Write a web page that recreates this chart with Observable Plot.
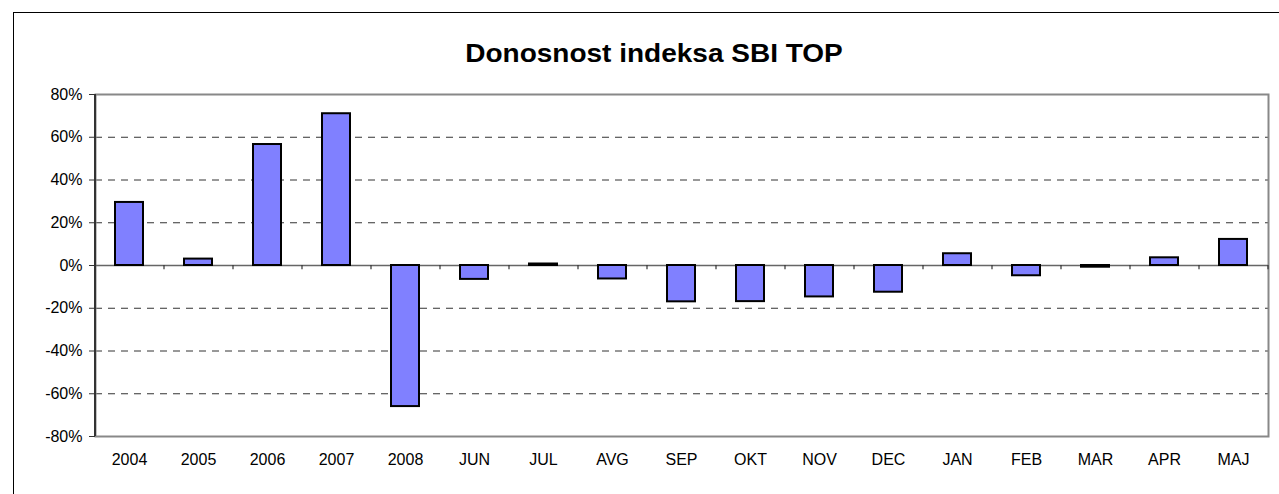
<!DOCTYPE html>
<html>
<head>
<meta charset="utf-8">
<script src="https://cdn.jsdelivr.net/npm/d3@7"></script>
<script src="https://cdn.jsdelivr.net/npm/@observablehq/plot@0.6"></script>
<style>
  html, body { margin: 0; padding: 0; background: #fff; overflow: hidden; }
  #wrap { position: relative; width: 1279px; height: 494px; overflow: hidden; font-family: "Liberation Sans", Arial, sans-serif; }
  #outer { position: absolute; left: 13px; top: 12px; width: 1400px; height: 600px; border: 1px solid #000; box-sizing: border-box; }
  #title { position: absolute; left: 13px; width: 1282px; top: 39px; text-align: center; font-size: 25px; font-weight: bold; color: #000; transform: scaleX(1.12); transform-origin: 641px 0; }
  #chart { position: absolute; left: 0; top: 0; }
</style>
</head>
<body>
<div id="wrap">
  <div id="outer"></div>
  <div id="chart"></div>
  <div id="title">Donosnost indeksa SBI TOP</div>
</div>
<script>
const categories = ["2004","2005","2006","2007","2008","JUN","JUL","AVG","SEP","OKT","NOV","DEC","JAN","FEB","MAR","APR","MAJ"];
const returns = [0.295, 0.03, 0.566, 0.71, -0.66, -0.065, 0.007, -0.063, -0.17, -0.169, -0.147, -0.125, 0.055, -0.048, -0.008, 0.036, 0.122];
const yTicks = [-0.8, -0.6, -0.4, -0.2, 0, 0.2, 0.4, 0.6, 0.8];
const gridTicks = [-0.6, -0.4, -0.2, 0.2, 0.4, 0.6];

const data = categories.map((c, i) => ({cat: c, value: returns[i]}));

const W = 1279, H = 494;
const mL = 95, mR = 11, mT = 94, mB = 58;
const step = (W - mL - mR) / categories.length;

const chart = Plot.plot({
  width: W,
  height: H,
  marginLeft: mL,
  marginRight: mR,
  marginTop: mT,
  marginBottom: mB,
  style: {fontFamily: "'Liberation Sans', Arial, sans-serif", fontSize: "16px", background: "transparent", color: "#000"},
  x: {domain: categories, paddingInner: 0.59, paddingOuter: 0.295, label: null},
  y: {domain: [-0.8, 0.8], label: null},
  marks: [
    Plot.ruleY(gridTicks, {stroke: "#333", strokeWidth: 1, strokeDasharray: "7,6"}),
    Plot.frame({stroke: "#888", strokeWidth: 2}),
    Plot.ruleY([0], {stroke: "#666", strokeWidth: 1.5}),
    Plot.barY(data, {x: "cat", y: "value", fill: "#8080FF", stroke: "#000", strokeWidth: 2}),
    Plot.ruleX(categories, {x: d => d, dx: -step / 2, y1: 0, y2: -0.02, stroke: "#333", strokeWidth: 1.2}),
    Plot.ruleX([categories[categories.length - 1]], {x: d => d, dx: step / 2, y1: 0, y2: -0.02, stroke: "#333", strokeWidth: 1.2}),
    Plot.ruleX([categories[0]], {x: d => d, dx: -step / 2, y1: -0.8, y2: 0.8, stroke: "#333", strokeWidth: 2}),
    Plot.axisY({ticks: yTicks, tickSize: 6, tickPadding: 7, tickFormat: d => Math.round(d * 100) + "%", stroke: "#333", fontSize: 16}),
    Plot.axisX({tickSize: 0, tickPadding: 17, fontSize: 16})
  ]
});
document.getElementById("chart").appendChild(chart);
</script>
</body>
</html>
